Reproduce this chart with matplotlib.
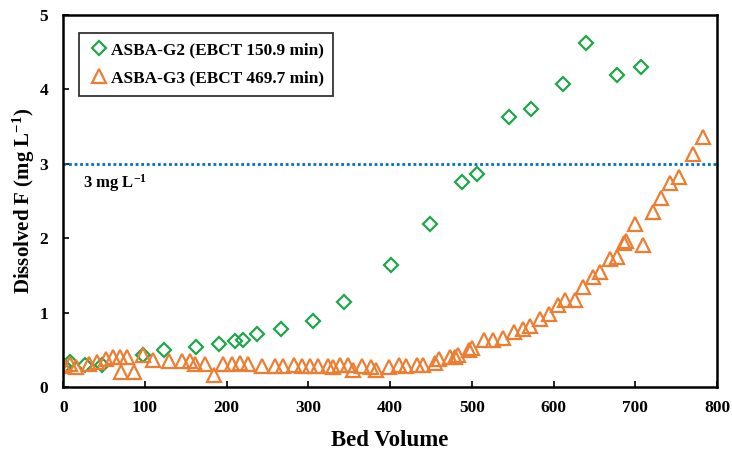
import numpy as np
import matplotlib.pyplot as plt

# ASBA-G2 (EBCT 150.9 min)
bv_g2 = [1, 8, 27, 47, 97, 123, 162, 190, 210, 220, 237, 267, 305, 344,
         401, 449, 488, 506, 545, 572, 611, 640, 678, 707]
f_g2 = [0.29, 0.34, 0.30, 0.30, 0.43, 0.51, 0.55, 0.58, 0.62, 0.64, 0.72, 0.79,
        0.89, 1.15, 1.64, 2.20, 2.76, 2.87, 3.63, 3.74, 4.08, 4.63, 4.19, 4.30]

# ASBA-G3 (EBCT 469.7 min)
bv_g3 = [1, 8, 15, 31, 41, 52, 61, 69, 71, 78, 86, 97, 110, 129, 145, 155, 161,
         173, 184, 196, 206, 216, 226, 243, 259, 269, 282, 292, 302, 312, 324,
         330, 339, 349, 355, 365, 377, 383, 399, 411, 420, 433, 440, 455, 460,
         473, 479, 483, 496, 500, 515, 526, 538, 551, 563, 571, 583, 594, 605,
         614, 626, 636, 648, 657, 669, 678, 686, 689, 700, 710, 722, 731, 743,
         753, 771, 783]
f_g3 = [0.29, 0.32, 0.27, 0.31, 0.34, 0.38, 0.41, 0.41, 0.21, 0.41, 0.21, 0.44,
        0.37, 0.36, 0.35, 0.35, 0.31, 0.31, 0.17, 0.31, 0.31, 0.33, 0.32, 0.29,
        0.29, 0.29, 0.30, 0.29, 0.29, 0.29, 0.29, 0.28, 0.30, 0.30, 0.23, 0.29,
        0.28, 0.23, 0.28, 0.30, 0.29, 0.30, 0.30, 0.33, 0.38, 0.41, 0.41, 0.44,
        0.50, 0.53, 0.64, 0.64, 0.67, 0.74, 0.78, 0.83, 0.92, 0.99, 1.11, 1.17,
        1.17, 1.35, 1.48, 1.55, 1.72, 1.75, 1.94, 1.97, 2.19, 1.91, 2.35, 2.55,
        2.75, 2.83, 3.14, 3.36]

limite = 3  # mg/L

plt.rcParams['font.family'] = ['Liberation Serif', 'DejaVu Serif']
plt.rcParams['font.weight'] = 'bold'
plt.rcParams['mathtext.fontset'] = 'custom'
plt.rcParams['mathtext.rm'] = 'Liberation Serif:bold'
plt.rcParams['mathtext.default'] = 'rm'

fig = plt.figure(figsize=(7.32, 4.53), dpi=100)
ax = fig.add_axes([0.0865, 0.1446, 0.893, 0.8223])

ax.axhline(limite, color='#0070C0', linestyle=(0, (1, 1)), linewidth=2)

ax.plot(bv_g2, f_g2, linestyle='none', marker='D', markersize=6.8,
        markerfacecolor='none', markeredgecolor='#1FA64A', markeredgewidth=1.6,
        label='ASBA-G2 (EBCT 150.9 min)')
ax.plot(bv_g3, f_g3, linestyle='none', marker='^', markersize=10,
        markerfacecolor='none', markeredgecolor='#ED7D31', markeredgewidth=1.6,
        label='ASBA-G3 (EBCT 469.7 min)')

ax.text(24, 2.75, '3 mg L$^{-1}$', fontsize=12, fontweight='bold', va='center')

ax.set_xlim(0, 800)
ax.set_ylim(0, 5)
ax.set_xticks(np.arange(0, 801, 100))
ax.set_yticks(np.arange(0, 6, 1))
ax.tick_params(direction='in', length=4, width=1.2, labelsize=12.5, pad=9)
ax.tick_params(axis='y', pad=11)
for lab in ax.get_xticklabels() + ax.get_yticklabels():
    lab.set_fontweight('bold')
for s in ax.spines.values():
    s.set_linewidth(1.8)

ax.set_xlabel('Bed Volume', fontsize=16.5, fontweight='bold', labelpad=10)
ax.set_ylabel('Dissolved F (mg L$^{-1}$)', fontsize=15, fontweight='bold', labelpad=2)

leg = ax.legend(loc='upper left', bbox_to_anchor=(0.024, 0.952), fontsize=12.4,
                frameon=True, fancybox=False, edgecolor='black',
                handletextpad=0.1, handlelength=1.2, borderpad=0.55,
                labelspacing=0.7, borderaxespad=0)
leg.get_frame().set_linewidth(1.3)

plt.savefig('out.png', dpi=100)
